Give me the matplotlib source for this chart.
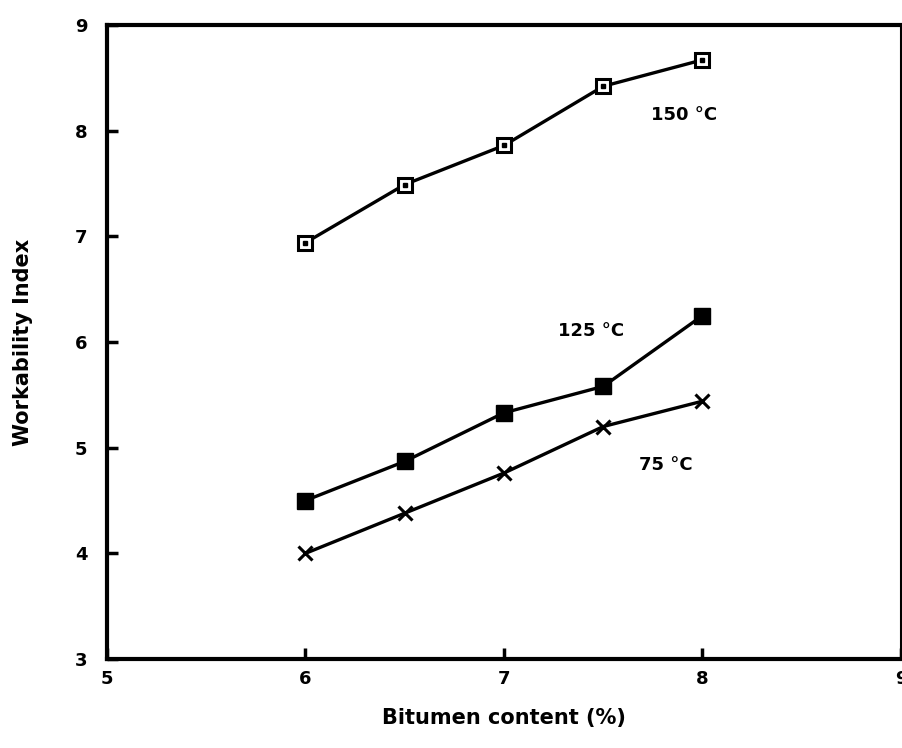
import matplotlib
matplotlib.use("Agg")
import matplotlib.pyplot as plt

bitumen = [6.0, 6.5, 7.0, 7.5, 8.0]
wi_150 = [6.94, 7.49, 7.86, 8.42, 8.67]
wi_125 = [4.50, 4.87, 5.33, 5.58, 6.25]
wi_75 = [4.00, 4.38, 4.76, 5.20, 5.44]
xticks = [5, 6, 7, 8, 9]
yticks = [3, 4, 5, 6, 7, 8, 9]

fig = plt.figure(figsize=(9.03, 7.48), dpi=100)
ax = fig.add_axes([107/903, 1-659/748, (901-107)/903, (659-25)/748])

lw = 2.4
ax.plot(bitumen, wi_150, color='black', lw=lw, marker='s', ms=10,
        mfc='white', mec='black', mew=2.2)
ax.plot(bitumen, wi_150, linestyle='none', marker='s', ms=3, color='black')
ax.plot(bitumen, wi_125, color='black', lw=lw, marker='s', ms=11,
        mfc='black', mec='black')
ax.plot(bitumen, wi_75, color='black', lw=lw, marker='x', ms=10, mew=2.2)

ax.text(7.74, 8.15, "150 °C", fontsize=13, fontweight='bold', ha='left', va='center')
ax.text(7.27, 6.1, "125 °C", fontsize=13, fontweight='bold', ha='left', va='center')
ax.text(7.68, 4.84, "75 °C", fontsize=13, fontweight='bold', ha='left', va='center')

ax.set_xlim(5, 9)
ax.set_ylim(3, 9)
ax.set_xticks(xticks)
ax.set_yticks(yticks)
ax.set_xticklabels([str(t) for t in xticks], fontsize=13, fontweight='bold')
ax.set_yticklabels([str(t) for t in yticks], fontsize=13, fontweight='bold')
ax.tick_params(direction='in', length=8, width=2.5, pad=8)
ax.tick_params(axis='y', pad=14)
for s in ax.spines.values():
    s.set_linewidth(3)
ax.spines['right'].set_linewidth(1.5)
ax.set_xlabel("Bitumen content (%)", fontsize=15, fontweight='bold', labelpad=14)
ax.set_ylabel("Workability Index", fontsize=15, fontweight='bold', labelpad=30)

fig.savefig("out.png", dpi=100)
